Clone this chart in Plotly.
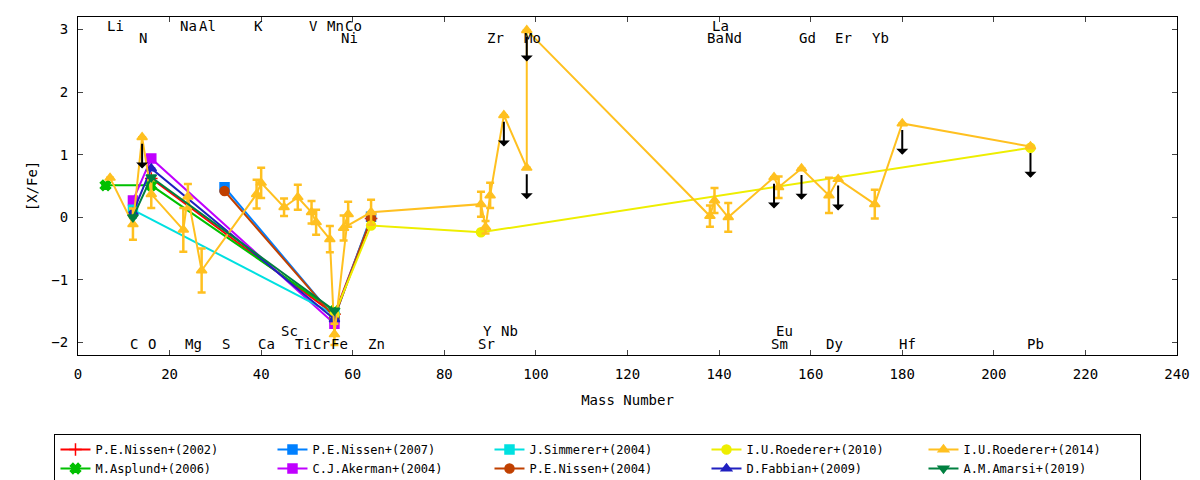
import plotly.graph_objects as go

# element labels drawn along top / bottom of the frame: (name, mass number)
top_row1 = [("Li", 7), ("Na", 23), ("Al", 27), ("K", 39), ("V", 51), ("Mn", 55), ("Co", 59), ("La", 139)]
top_row2 = [("N", 14), ("Ni", 58), ("Zr", 90), ("Mo", 98), ("Ba", 138), ("Nd", 142), ("Gd", 158),
            ("Er", 166), ("Yb", 174)]
bot_row1 = [("Sc", 45), ("Y", 89), ("Nb", 93), ("Eu", 153)]
bot_row2 = [("C", 12), ("O", 16), ("Mg", 24), ("S", 32), ("Ca", 40), ("Ti", 48), ("Cr", 52), ("Fe", 56),
            ("Zn", 64), ("Sr", 88), ("Sm", 152), ("Dy", 164), ("Hf", 180), ("Pb", 208)]

# P.E.Nissen+(2002)
nis02_mass = [16, 56, 64]
nis02_xfe = [0.62, -1.55, -0.02]
# M.Asplund+(2006)
asp06_mass = [6, 16, 56]
asp06_xfe = [0.51, 0.51, -1.50]
# P.E.Nissen+(2007)
nis07_mass = [32, 56, 64]
nis07_xfe = [0.48, -1.60, 0.01]
# C.J.Akerman+(2004)
ake04_mass = [12, 16, 56]
ake04_xfe = [0.27, 0.94, -1.70]
# J.Simmerer+(2004)
sim04_mass = [12, 56]
sim04_xfe = [0.12, -1.55]
# P.E.Nissen+(2004)
nis04_mass = [32, 56, 64]
nis04_xfe = [0.42, -1.60, -0.02]
# I.U.Roederer+(2010)
roe10_mass = [56, 64, 88, 208]
roe10_xfe = [-1.55, -0.13, -0.24, 1.11]
# D.Fabbian+(2009)
fab09_mass = [12, 16, 56]
fab09_xfe = [0.08, 0.78, -1.63]
# A.M.Amarsi+(2019)
ama19_mass = [12, 16, 56]
ama19_xfe = [0.00, 0.64, -1.49]
# I.U.Roederer+(2014)  (ul = 1 -> upper limit)
roe14_mass = [7, 12, 14, 16, 23, 24, 27, 39, 40, 45, 48, 51, 52, 55, 56, 59, 58, 64,
              88, 89, 90, 93, 98, 98, 138, 139, 142, 152, 153, 158, 164, 166, 174, 180, 208]
roe14_xfe = [0.63, -0.11, 1.28, 0.37, -0.20, 0.33, -0.85, 0.37, 0.55, 0.16, 0.32, 0.08, -0.08, -0.35,
             -1.87, 0.05, -0.17, 0.08, 0.21, -0.16, 0.35, 1.63, 0.79, 2.99, 0.02, 0.27, 0.00,
             0.64, 0.48, 0.78, 0.35, 0.61, 0.21, 1.50, 1.13]
roe14_err = [0.0, 0.25, 0.0, 0.22, 0.35, 0.20, 0.35, 0.23, 0.24, 0.14, 0.20, 0.18, 0.20, 0.21,
             0.17, 0.20, 0.20, 0.20, 0.20, 0.10, 0.20, 0.0, 0.0, 0.0, 0.17, 0.20, 0.23,
             0.0, 0.17, 0.0, 0.28, 0.0, 0.23, 0.0, 0.0]
roe14_ul = [0, 0, 1, 0, 0, 0, 0, 0, 0, 0, 0, 0, 0, 0, 0, 0, 0, 0,
            0, 0, 0, 1, 1, 1, 0, 0, 0, 1, 0, 1, 0, 1, 0, 1, 1]
ul_len = 0.5

FONT = "DejaVu Sans Mono"

# (name, x, y, colour, symbol, legend rank, errors)
series = [
    ("P.E.Nissen+(2002)", nis02_mass, nis02_xfe, "#ff0000", "cross-thin", 1, None),
    ("M.Asplund+(2006)", asp06_mass, asp06_xfe, "#00c000", "x", 6, None),
    ("P.E.Nissen+(2007)", nis07_mass, nis07_xfe, "#0080ff", "square", 2, None),
    ("C.J.Akerman+(2004)", ake04_mass, ake04_xfe, "#c000ff", "square", 7, None),
    ("J.Simmerer+(2004)", sim04_mass, sim04_xfe, "#00e0e0", "square", 3, None),
    ("P.E.Nissen+(2004)", nis04_mass, nis04_xfe, "#c04000", "circle", 8, None),
    ("I.U.Roederer+(2010)", roe10_mass, roe10_xfe, "#eeee00", "circle", 4, None),
    ("D.Fabbian+(2009)", fab09_mass, fab09_xfe, "#2020c0", "triangle-up", 9, None),
    ("I.U.Roederer+(2014)", roe14_mass, roe14_xfe, "#ffc020", "triangle-up", 5, roe14_err),
    ("A.M.Amarsi+(2019)", ama19_mass, ama19_xfe, "#008040", "triangle-down", 10, None),
]

fig = go.Figure()
for name, xs, ys, col, sym, rank, err in series:
    fig.add_trace(go.Scatter(
        x=xs, y=ys, name=name, mode="lines+markers", legendrank=rank,
        line=dict(color=col, width=2),
        marker=dict(symbol=sym, size=9, color=col, line=dict(color=col, width=1.5)),
        error_y=dict(type="data", array=err if err else [0] * len(ys), color=col,
                     thickness=2.5, width=4, visible=True),
    ))

ann = []
for rows, yv in [(top_row1, 3.05), (top_row2, 2.87), (bot_row1, -1.81), (bot_row2, -2.03)]:
    for el, m in rows:
        ann.append(dict(x=m, y=yv, text=el, showarrow=False, xanchor="left", xshift=-5,
                        yanchor="middle", font=dict(family=FONT, size=14, color="black")))

# upper limit arrows
for m, v, u in zip(roe14_mass, roe14_xfe, roe14_ul):
    if u:
        ann.append(dict(x=m, y=v - ul_len, ax=m, ay=v, axref="x", ayref="y", xref="x", yref="y",
                        showarrow=True, arrowhead=1, arrowsize=1, arrowwidth=2,
                        arrowcolor="black", startstandoff=5, text=""))

# page has an 8px body margin, so the figure is a bit smaller than the window
fig.update_layout(
    width=1192, height=472,
    margin=dict(l=70, r=23, t=9, b=125),
    plot_bgcolor="white", paper_bgcolor="white",
    font=dict(family=FONT, size=14, color="black"),
    annotations=ann,
    showlegend=True,
    legend=dict(orientation="h", xref="container", x=0.039, xanchor="left",
                yref="container", y=0.0975, yanchor="top",
                bordercolor="black", borderwidth=1, entrywidth=172,
                font=dict(family=FONT, size=12), tracegroupgap=0),
)
fig.update_xaxes(range=[0, 240], dtick=20, ticks="inside", ticklen=5, showline=True,
                 linecolor="black", linewidth=1, mirror="ticks", showgrid=False, zeroline=False,
                 title=dict(text="Mass Number", standoff=14, font=dict(size=14)),
                 tickfont=dict(size=14), ticklabelstandoff=6, automargin=False)
fig.update_yaxes(range=[-2.2, 3.2], dtick=1, ticks="inside", ticklen=5, showline=True,
                 linecolor="black", linewidth=1, mirror="ticks", showgrid=False, zeroline=False,
                 title=dict(text="[X/Fe]", standoff=10, font=dict(size=14)),
                 tickfont=dict(size=14), ticklabelstandoff=6, automargin=False)

fig.write_html("out.html")
